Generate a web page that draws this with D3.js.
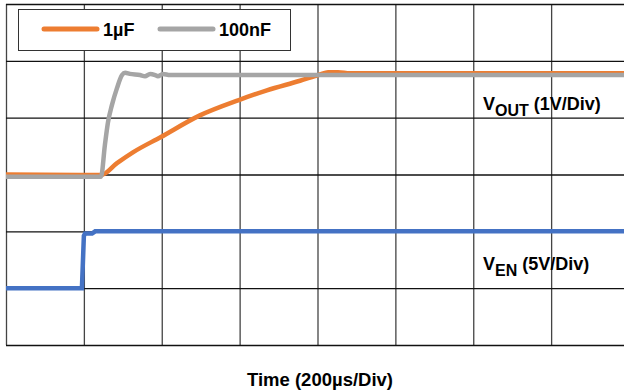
<!doctype html>
<html>
<head>
<script src="https://cdnjs.cloudflare.com/ajax/libs/d3/7.8.5/d3.min.js"></script>
<style>
    body { margin: 0; background: #fff; }
    svg { display: block; font-family: "Liberation Sans", Arial, sans-serif; font-weight: bold; }
</style>
</head>
<body>
<svg width="624" height="392"></svg>
<script>
// time in microseconds, level in screen divisions (0 = bottom grid line)
var timeTicks = [0, 200, 400, 600, 800, 1000, 1200, 1400, 1600];
var divTicks = [0, 1, 2, 3, 4, 5, 6];

var seriesNames = ["1µF", "100nF"];
var seriesColors = ["#ED7D31", "#A5A5A5"];

var cap1uT = [0, 244, 285, 326, 398, 498, 598, 670, 755, 806, 827, 853, 883, 1600];
var cap1uV = [3.0, 2.99, 3.20, 3.39, 3.66, 4.04, 4.31, 4.48, 4.65, 4.76, 4.80, 4.80, 4.78, 4.78];

var cap100nT = [0, 244, 254, 262, 272, 285, 298, 306, 318, 344, 357, 370, 383, 390, 403, 421, 1600];
var cap100nV = [2.96, 2.96, 3.52, 3.92, 4.22, 4.52, 4.75, 4.79, 4.77, 4.75, 4.73, 4.77, 4.75, 4.73, 4.77, 4.75, 4.75];

var enT = [0, 195, 200, 203, 221, 229, 1600];
var enV = [1.0, 1.0, 1.92, 1.96, 1.96, 2.0, 2.0];

var svg = d3.select("svg"),
    margin = {left: 6, top: 4},
    width = 623,
    height = 341;

var x = d3.scaleLinear().domain([0, 1600]).range([0, width]);
var y = d3.scaleLinear().domain([0, 6]).range([height, 0]);

var g = svg.append("g")
    .attr("transform", "translate(" + margin.left + "," + margin.top + ")");

// grid
var gx = g.append("g")
    .attr("transform", "translate(0," + height + ")")
    .call(d3.axisBottom(x).tickValues(timeTicks).tickSize(-height).tickFormat(""));
gx.select(".domain").remove();
gx.selectAll("line").attr("stroke", "#444").attr("stroke-width", 1.3);

var gy = g.append("g")
    .call(d3.axisLeft(y).tickValues(divTicks).tickSize(-width).tickFormat(""));
gy.select(".domain").remove();
gy.selectAll("line").attr("stroke", "#111").attr("stroke-width", 1.3);

function pts(ts, vs) {
    return ts.map(function (t, i) { return [t, vs[i]]; });
}

var line = d3.line()
    .x(function (d) { return x(d[0]); })
    .y(function (d) { return y(d[1]); });

g.append("path")
    .attr("d", line.curve(d3.curveMonotoneX)(pts(cap1uT, cap1uV)))
    .attr("fill", "none")
    .attr("stroke", seriesColors[0])
    .attr("stroke-width", 4.5);

g.append("path")
    .attr("d", line.curve(d3.curveMonotoneX)(pts(cap100nT, cap100nV)))
    .attr("fill", "none")
    .attr("stroke", seriesColors[1])
    .attr("stroke-width", 4.5);

g.append("path")
    .attr("d", line.curve(d3.curveLinear)(pts(enT, enV)))
    .attr("fill", "none")
    .attr("stroke", "#4472C4")
    .attr("stroke-width", 4.5);

// trace labels
var vout = svg.append("text").attr("x", 483).attr("y", 110).attr("font-size", 18);
vout.append("tspan").text("V");
vout.append("tspan").attr("dy", 6).attr("font-size", 16).text("OUT");
vout.append("tspan").attr("dy", -6).text(" (1V/Div)");

var ven = svg.append("text").attr("x", 483).attr("y", 270).attr("font-size", 18);
ven.append("tspan").text("V");
ven.append("tspan").attr("dy", 6).attr("font-size", 16).text("EN");
ven.append("tspan").attr("dy", -6).text(" (5V/Div)");

svg.append("text")
    .attr("x", 320).attr("y", 386)
    .attr("text-anchor", "middle")
    .attr("font-size", 18.5)
    .text("Time (200µs/Div)");

// legend
var legend = svg.append("g");
legend.append("rect")
    .attr("x", 18.5).attr("y", 9.5).attr("width", 272).attr("height", 41)
    .attr("fill", "#fff").attr("stroke", "#333").attr("stroke-width", 1);
var legX = [44, 160];
seriesNames.forEach(function (name, i) {
    legend.append("line")
        .attr("x1", legX[i]).attr("x2", legX[i] + 53)
        .attr("y1", 29).attr("y2", 29)
        .attr("stroke", seriesColors[i]).attr("stroke-width", 5)
        .attr("stroke-linecap", "round");
    legend.append("text")
        .attr("x", legX[i] + 59).attr("y", 36)
        .attr("font-size", 18)
        .text(name);
});
</script>
</body>
</html>
